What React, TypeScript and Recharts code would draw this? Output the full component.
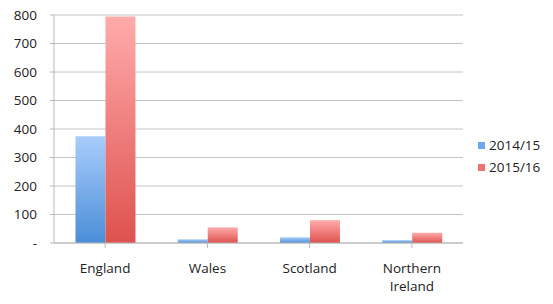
import React from "react";
import { BarChart, Bar, XAxis, YAxis, CartesianGrid, Legend } from "recharts";

const categories = ["England", "Wales", "Scotland", "Northern Ireland"];
const series2014 = [375, 13, 20, 10];
const series2015 = [795, 55, 80, 36];
const yTicks = [0, 100, 200, 300, 400, 500, 600, 700, 800];

const data = categories.map((c, i) => ({ name: c, s1: series2014[i], s2: series2015[i] }));

const FONT = "'Open Sans', 'Liberation Sans', sans-serif";

const XTick = (props: any) => {
  const { x, y, payload } = props;
  const words: string[] = String(payload.value).split(" ");
  const lines = words.length > 1 ? words : [payload.value];
  return (
    <text x={x} y={y} textAnchor="middle" fill="#222" fontSize={13.5} fontFamily={FONT}>
      {lines.map((l: string, i: number) => (
        <tspan key={i} x={x} dy={i === 0 ? "0.9em" : 18}>{l}</tspan>
      ))}
    </text>
  );
};

const LegendContent = () => (
  <div style={{ fontFamily: FONT, fontSize: 13.5, color: "#222" }}>
    {[
      { label: "2014/15", color: "#6ea8ec" },
      { label: "2015/16", color: "#ec7370" },
    ].map((it) => (
      <div key={it.label} style={{ display: "flex", alignItems: "center", height: 22 }}>
        <span style={{ width: 7, height: 7, background: it.color, marginRight: 4, display: "inline-block" }} />
        <span>{it.label}</span>
      </div>
    ))}
  </div>
);

export default function App() {
  return (
    <div style={{ position: "absolute", left: 0, top: 0, background: "#fff" }}>
      <BarChart
        width={553}
        height={304}
        data={data}
        margin={{ top: 15, right: 10, bottom: 0, left: 0 }}
        barCategoryGap="21%"
        barGap={0}
      >
        <defs>
          <linearGradient id="gBlue" x1="0" y1="0" x2="0" y2="1">
            <stop offset="0%" stopColor="#a9cdfb" />
            <stop offset="100%" stopColor="#4a8ed8" />
          </linearGradient>
          <linearGradient id="gRed" x1="0" y1="0" x2="0" y2="1">
            <stop offset="0%" stopColor="#ffabab" />
            <stop offset="100%" stopColor="#de524e" />
          </linearGradient>
        </defs>
        <CartesianGrid vertical={false} stroke="#c4c4c4" />
        <XAxis
          dataKey="name"
          interval={0}
          tick={<XTick />}
          tickSize={5}
          tickMargin={13}
          height={61}
          stroke="#b8b8b8"
        />
        <YAxis
          domain={[0, 800]}
          ticks={yTicks}
          tickFormatter={(v: number) => (v === 0 ? "-" : String(v))}
          width={54}
          tickSize={4}
          tickMargin={13}
          stroke="#b8b8b8"
          tick={{ fill: "#222", fontSize: 13.5, fontFamily: FONT }}
        />
        <Legend
          layout="vertical"
          align="right"
          verticalAlign="top"
          content={<LegendContent />}
          wrapperStyle={{ position: "absolute", left: 478, top: 134, width: 80 }}
        />
        <Bar dataKey="s1" name="2014/15" fill="url(#gBlue)" isAnimationActive={false} />
        <Bar dataKey="s2" name="2015/16" fill="url(#gRed)" isAnimationActive={false} />
      </BarChart>
    </div>
  );
}
